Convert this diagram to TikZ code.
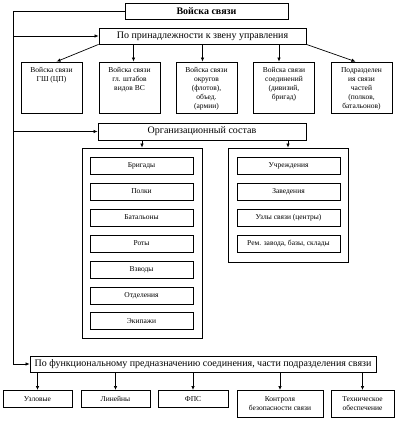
\documentclass[tikz,border=0pt]{standalone}
\usepackage{fontspec}
\setmainfont{Liberation Serif}
\usetikzlibrary{arrows.meta}
\newcommand{\unittext}[1]{\parbox[t][51pt][t]{61pt}{\centering\rule{0pt}{10pt}#1}}

\begin{document}
\begin{tikzpicture}[
  x=1pt,y=-1pt,
  flow/.style={-{Latex[length=4pt,width=3.5pt]},line width=0.7pt},
  head/.style={draw,line width=0.8pt,minimum height=16pt,inner sep=0pt,
    font=\fontsize{10}{12}\selectfont},
  unit/.style={draw,line width=0.8pt,inner sep=0pt,font=\fontsize{7.5}{9}\selectfont},
  group/.style={draw,line width=0.8pt,minimum width=120pt},
  item/.style={draw,line width=0.8pt,minimum width=103pt,minimum height=17pt,
    inner sep=0pt,font=\fontsize{7.5}{9}\selectfont},
  leaf/.style={draw,line width=0.8pt,minimum height=17pt,inner sep=0pt,
    align=center,font=\fontsize{7.5}{9}\selectfont}
]
\useasboundingbox (0,0) rectangle (409,424);
\node[head,minimum width=163pt,font=\fontsize{10}{12}\selectfont\bfseries] (top) at (206.5,11) {Войска связи};
\node[head,minimum width=207pt] (po) at (202.5,36) {По принадлежности к звену управления};
\node[unit] (gsh) at (51.5,87.5) {\unittext{Войска связи\\ГШ (ЦП)}};
\node[unit] (vidy) at (129.5,87.5) {\unittext{Войска связи\\гл. штабов\\видов ВС}};
\node[unit] (okr) at (206.5,87.5) {\unittext{Войска связи\\округов\\(флотов),\\объед.\\(армии)}};
\node[unit] (soed) at (284,87.5) {\unittext{Войска связи\\соединений\\(дивизий,\\бригад)}};
\node[unit] (chast) at (361.5,87.5) {\unittext{Подразделен\\ия связи\\частей\\(полков,\\батальонов)}};
\draw[flow] (po.south west) -- ([xshift=5pt]gsh.north);
\draw[flow] ([xshift=4pt]vidy.north |- po.south) -- ([xshift=4pt]vidy.north);
\draw[flow] ([xshift=-4pt]okr.north |- po.south) -- ([xshift=-4pt]okr.north);
\draw[flow] ([xshift=-5pt]soed.north |- po.south) -- ([xshift=-5pt]soed.north);
\draw[flow] (po.south east) -- ([xshift=-6pt]chast.north);

\node[head,minimum width=208pt,minimum height=17pt] (org) at (202,131.5) {Организационный состав};
\node[group,minimum height=190pt] (voin) at (142,243) {};
\node[group,minimum height=114pt] (tyl) at (288,205) {};
\draw[flow] (voin.north |- org.south) -- (voin.north);
\draw[flow] (tyl.north |- org.south) -- (tyl.north);
\node[item] (brig) at (141.5,165.5) {Бригады};
\node[item] (polk) at (141.5,191.5) {Полки};
\node[item] (bat) at (141.5,217.5) {Батальоны};
\node[item] (rota) at (141.5,243.5) {Роты};
\node[item] (vzv) at (141.5,269.5) {Взводы};
\node[item] (otd) at (141.5,295.5) {Отделения};
\node[item] (ekip) at (141.5,321) {Экипажи};
\node[item] (uchr) at (288.5,165.5) {Учреждения};
\node[item] (zav) at (288.5,191.5) {Заведения};
\node[item] (uzly) at (288.5,217.5) {Узлы связи (центры)};
\node[item] (rem) at (288.5,243.5) {Рем. завода, базы, склады};

\node[head,minimum width=346pt] (fn) at (203,364) {По функциональному предназначению соединения, части подразделения связи};
\node[leaf,minimum width=69pt,anchor=north] (uzl) at (37.5,390) {Узловые};
\node[leaf,minimum width=69pt,anchor=north] (lin) at (115.5,390) {Линейны};
\node[leaf,minimum width=70pt,anchor=north] (fps) at (193,390) {ФПС};
\node[leaf,minimum width=86pt,minimum height=27pt,anchor=north] (kbs) at (280,390) {Контроля\\безопасности связи};
\node[leaf,minimum width=63pt,minimum height=27pt,anchor=north] (teh) at (362.5,390) {Техническое\\обеспечение};
\foreach \n in {uzl,lin,fps,kbs,teh}
  \draw[flow] (\n.north |- fn.south) -- (\n.north);

\coordinate (bus) at (13,0);
\draw[flow] (top.west) -| (bus |- fn.west) -- (fn.west);
\draw[flow] (bus |- po.west) -- (po.west);
\draw[flow] (bus |- org.west) -- (org.west);
\end{tikzpicture}
\end{document}
